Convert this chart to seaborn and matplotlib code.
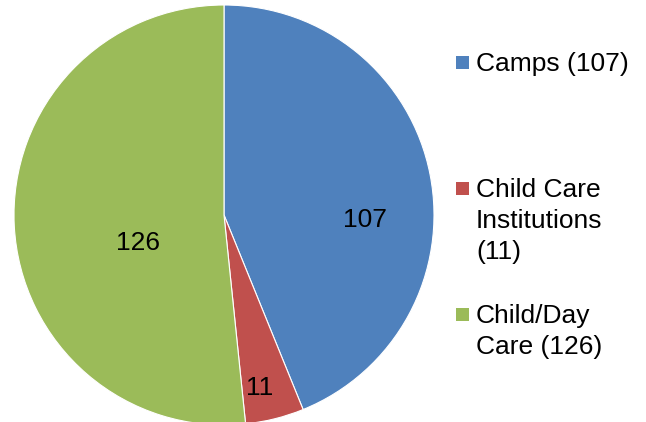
import matplotlib
matplotlib.use("Agg")
import matplotlib.pyplot as plt
import seaborn as sns
from matplotlib.patches import Rectangle

# data
categories = ["Camps", "Child Care Institutions", "Child/Day Care"]
counts = [107, 11, 126]
legend_labels = ["Camps (107)", "Child Care\nInstitutions\n(11)", "Child/Day\nCare (126)"]
colors = ["#4F81BD", "#C0504D", "#9BBB59"]

# where the value labels sit inside the pie (axes data units, Excel-like best fit)
label_pos = [(0.67, -0.025), (0.17, -0.825), (-0.41, -0.135)]

sns.set_theme(style="white")
plt.rcParams["font.family"] = ["Liberation Sans", "DejaVu Sans"]

W, H = 646, 422
fig = plt.figure(figsize=(W / 100, H / 100), dpi=100)

# pie: center (224, 215) px, radius 210 px
cx, cy, r = 224, 215, 210
ax = fig.add_axes([(cx - r) / W, (H - cy - r) / H, 2 * r / W, 2 * r / H])
wedges, _ = ax.pie(counts, colors=colors, startangle=90, counterclock=False,
                   radius=1, wedgeprops=dict(edgecolor="white", linewidth=0.8))
ax.set_xlim(-1, 1)
ax.set_ylim(-1, 1)
ax.set_aspect("equal")
ax.axis("off")

for (x, y), v in zip(label_pos, counts):
    ax.text(x, y, str(v), ha="center", va="center", fontsize=19, color="black")

# legend drawn by hand so the swatch lines up with the first text line
entry_top = [52, 178, 304]   # px from top
for lab, col, top in zip(legend_labels, colors, entry_top):
    sq_top = top + 4
    fig.add_artist(Rectangle((456 / W, 1 - (sq_top + 13) / H), 13 / W, 13 / H,
                             transform=fig.transFigure, facecolor=col,
                             edgecolor="none"))
    fig.text(476 / W, 1 - top / H, lab, ha="left", va="top", fontsize=19,
             color="black", linespacing=1.36)

fig.savefig("out.png", dpi=100)
